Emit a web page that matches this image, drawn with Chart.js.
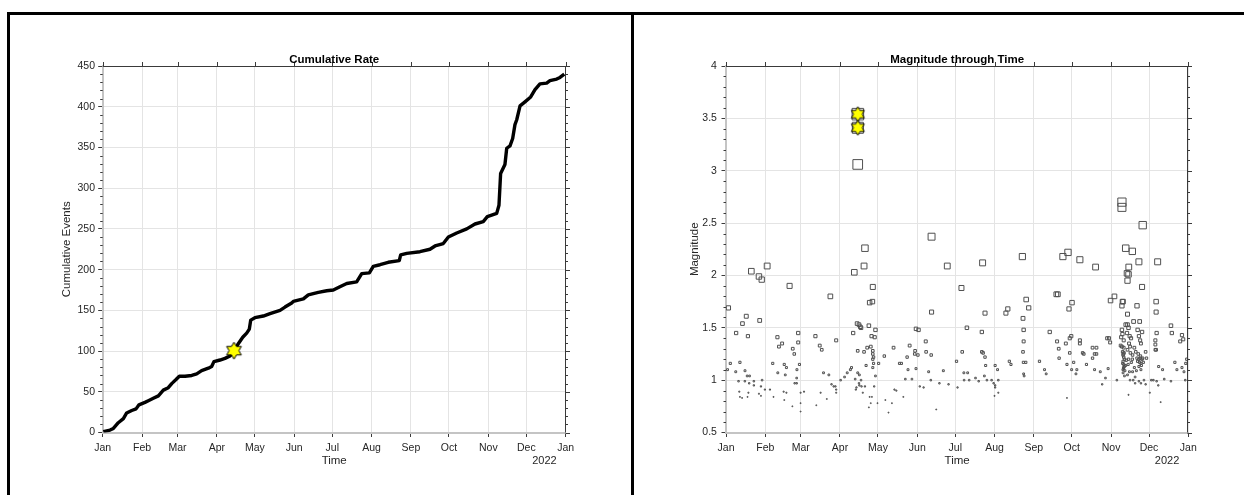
<!DOCTYPE html>
<html>
<head>
<meta charset="utf-8">
<script src="https://cdn.jsdelivr.net/npm/chart.js@4.4.1/dist/chart.umd.min.js"></script>
<style>
  html, body { margin: 0; padding: 0; background: #fff; }
  #fig { position: relative; width: 1244px; height: 495px; overflow: hidden; background: #fff; }
  .painel { position: absolute; top: 0; height: 495px; }
  .linha { position: absolute; background: #000; }
</style>
</head>
<body>
<div id="fig">
  <div class="painel" style="left:0;width:633px"><canvas id="cumChart" width="633" height="495"></canvas></div>
  <div class="painel" style="left:633px;width:611px"><canvas id="magChart" width="611" height="495"></canvas></div>
  <div class="linha" style="left:7px;top:12px;width:1237px;height:3px"></div>
  <div class="linha" style="left:7px;top:12px;width:3px;height:483px"></div>
  <div class="linha" style="left:631px;top:12px;width:3px;height:483px"></div>
</div>
<script>
// ========== DADOS ==========
// eixo de tempo: dias desde 1 de janeiro
const mesesDias = [0, 31, 59, 90, 120, 151, 181, 212, 243, 273, 304, 334, 365];
const mesesNomes = ['Jan', 'Feb', 'Mar', 'Apr', 'May', 'Jun', 'Jul', 'Aug', 'Sep', 'Oct', 'Nov', 'Dec', 'Jan'];
const anoRotulo = '2022';

// curva acumulada
const cumDias = [
  0.5, 5.8, 8.4, 12.3, 16.3, 18.9, 22.9, 26.3, 28.6, 33.3,
  36, 39.9, 43.9, 47.8, 51.7, 54.4, 57.8, 60.4, 64.9, 70.2,
  74.1, 78, 83.3, 85.9, 87.7, 92.5, 96.4, 100.4, 103.5, 106.9,
  110.4, 113.5, 115.6, 116.7, 120, 126.6, 131.9, 139.8, 143.7, 149,
  150.3, 158.2, 162.1, 170, 176.6, 181.8, 187, 192.4, 200.2, 204.2,
  210.2, 213.3, 218.6, 225.1, 233.8, 234.9, 239.7, 250.1, 258, 262,
  268.5, 272.5, 279.1, 287, 293.5, 300, 303.2, 310.6, 312.4, 313.7,
  317.1, 318.5, 321.1, 323.2, 325, 326.4, 329, 332.9, 337.4, 340.8,
  344.7, 350, 352.6, 357.9, 360.5, 363.9
];
const cumEventos = [
  1, 3, 5, 12, 17, 24, 27, 29, 34, 37,
  39, 42, 45, 52, 55, 60, 65, 69, 69, 70,
  72, 76, 79, 81, 87, 89, 91, 94, 100, 109,
  117, 122, 127, 138, 141, 143, 146, 150, 154, 159,
  161, 164, 169, 172, 174, 175, 179, 183, 185, 195,
  196, 204, 206, 209, 211, 218, 220, 222, 225, 229,
  232, 240, 245, 250, 256, 259, 265, 269, 279, 318,
  329, 349, 352, 361, 378, 384, 401, 406, 412, 421,
  428, 429, 432, 434, 436, 440
];

// eventos principais (estrelas)
const estrelaCumDias = [103.5];
const estrelaCumEventos = [100.5];
const estrelaMagDias = [104.1, 104.1];
const estrelaMagValores = [3.54, 3.41];

// magnitudes de cada evento
const magDias = [
  // jan
  1.9, 3.4, 1.2, 8, 7.7, 9.9, 11, 13, 10.5, 11,
  12.7, 15, 16, 17.3, 16.7, 18.6, 14.9, 18.3, 17.7, 17,
  20, 22, 22, 26, 26.6, 28.2, 27.6, 28.5, 26, 27.6,
  32.5, 30.7,
  // fev
  34.7, 36.9, 37.5, 40.6, 41.8, 44.3, 40.9, 46, 47.7, 46.8,
  45.5, 47.7, 46, 50.2, 52.7, 53.9, 52.4, 54.2, 55.8, 55.8,
  57, 57, 56, 58, 58.9, 58.9, 58.9, 61.6,
  // mar
  70.6, 71.3, 74, 75.6, 74.7, 77, 79.6, 81.2, 82.4, 83.3,
  85, 86.4, 87, 87, 87, 90.5,
  // abr
  93.6, 95.7, 98.2, 99.1, 100.4, 101.3, 102, 103, 102.5, 104,
  103.5, 104, 104, 105, 106, 106.6, 105.3, 105, 105.3, 106.6,
  107, 108, 109, 109.7, 109, 110.6, 111.5, 109.7, 112.8, 113.4,
  115.6, 115.9, 114.9, 114.3, 115.9, 115.9, 116.5, 115.9, 116.5, 115.9,
  112.8, 113.4, 115.2, 114.3, 117, 117.4, 118, 118, 119.6, 120.5,
  104.1, 104.1,
  // mai
  125, 125.8, 128.3, 131, 132.3, 133, 134.5, 137, 138.5, 140,
  141.6, 143, 143.7, 145, 146.8, 149, 149.3, 150, 150, 152,
  151.5, 153,
  // jun
  156, 157.7, 158, 160, 161.7, 162, 162.3, 162.3, 166, 168.5,
  171.6, 174.7, 175.7,
  // jul
  182, 182.8, 185.9, 186.5, 187.8, 188, 190.2, 190.8, 192, 197,
  199.5, 202, 202.6, 202, 203, 204.5, 205, 204.5, 204, 206,
  209.7, 211.3,
  // ago
  212.5, 212.5, 212.5, 212, 214.4, 215, 215, 221, 222.5, 223.7,
  225, 234, 234.5, 235, 235, 234.5, 234.8, 235, 235.4, 237,
  236.7, 239,
  // set
  247.5, 251.5, 252.8, 255.6, 260.8, 262, 261.4, 262.7, 263, 266,
  268.3, 270, 270.8, 269.2, 269.2, 271.4, 272.6, 271.4, 272.9,
  // out
  273.2, 274.5, 276.3, 277, 279.4, 279.4, 279.4, 281.6, 282.5, 284.6,
  289.4, 289.4, 291, 291.8, 292.5, 292.5, 291, 295.5, 297, 299.6,
  301, 302.4, 301.7, 303.6, 303.3,
  // nov
  306.7, 308.6, 312.6, 312.6, 313, 313.5, 312.6, 312.6, 313, 312,
  314, 311.6, 312.6, 314, 313.5, 314, 314.6, 313.5, 314, 314.6,
  314, 315, 313.5, 314.6, 315.6, 316.6, 317.8, 317, 318, 317,
  315.6, 317, 317.8, 316.6, 318.7, 319, 317, 319.3, 317.8, 317,
  319, 317.8, 320.8, 321.8, 322.4, 320.8, 322.4, 321.5, 323, 324.5,
  325, 326, 326.6, 326, 327, 327.6, 324.5, 325, 326, 327,
  327.6, 328.5, 329, 326, 327.6, 326, 327.6, 328.5, 328.5, 329,
  331.3, 332, 330, 331.3, 334.6,
  313.2, 313.8, 313.2, 313.8, 314.2, 313.4, 315.5, 316, 317.5, 318.5,
  320, 321, 323.5, 324, 325.5, 326.5, 327.2, 328, 329.5, 318.2,
  319.8, 321, 323,
  // dez
  335.8, 337.4, 339, 339.6, 339.6, 340, 339, 339, 339.6, 340,
  340.8, 341.6, 341.3, 343.2, 344.7, 346, 351.3, 352, 351.3, 354.4,
  356, 358.6, 360, 361, 360, 361.6, 362.6, 363.8, 363
];
const magValores = [
  // jan
  1.69, 1.16, 1.10, 1.45, 1.08, 0.99, 1.17, 1.54, 0.89, 0.84,
  0.83, 1.09, 1.61, 1.42, 1.04, 1.04, 0.99, 0.97, 0.88, 0.84,
  2.04, 0.99, 0.95, 1.99, 1.57, 1.96, 0.94, 1.00, 0.87, 0.85,
  2.09, 0.91,
  // fev
  0.91, 1.16, 0.84, 1.41, 1.32, 1.35, 1.07, 1.15, 1.12, 1.05,
  0.89, 0.88, 0.81, 1.90, 1.30, 1.25, 0.75, 0.97, 0.97, 1.02,
  1.45, 1.36, 1.10, 1.15, 0.88, 0.78, 0.70, 0.89,
  // mar
  1.42, 0.76, 1.33, 1.29, 0.88, 1.07, 0.82, 1.05, 1.80, 0.96,
  0.94, 0.94, 1.38, 0.91, 0.88, 1.00,
  // abr
  1.03, 1.07, 1.10, 1.12, 1.45, 2.03, 1.01, 0.93, 0.91, 3.06,
  1.54, 1.28, 1.07, 1.53, 1.51, 1.50, 1.05, 0.97, 0.95, 1.00,
  0.94, 0.88, 2.09, 2.26, 1.27, 1.14, 1.31, 0.94, 1.52, 1.74,
  1.75, 1.89, 1.42, 1.32, 1.28, 1.25, 1.22, 1.20, 1.16, 1.12,
  0.74, 0.84, 0.84, 0.78, 0.94, 1.41, 1.48, 1.04, 0.78, 1.16,
  3.54, 3.41,
  // mai
  1.23, 0.81, 0.69, 0.78, 1.31, 0.91, 0.90, 1.16, 1.16, 0.84,
  1.01, 1.22, 1.10, 1.33, 1.01, 1.25, 1.28, 1.49, 1.11, 1.48,
  1.24, 0.94,
  // jun
  0.93, 1.37, 1.27, 1.08, 1.00, 1.24, 2.37, 1.65, 0.72, 0.97,
  1.09, 2.09, 0.96,
  // jul
  1.18, 0.93, 1.88, 1.27, 1.07, 1.00, 1.50, 1.07, 1.00, 1.02,
  0.99, 1.46, 2.12, 1.27, 1.26, 1.22, 1.14, 1.64, 1.04, 1.00,
  1.00, 0.97,
  // ago
  1.14, 0.95, 0.93, 0.85, 1.10, 0.88, 1.00, 1.64, 1.68, 1.18,
  1.15, 2.18, 1.59, 1.48, 1.37, 1.27, 1.17, 1.06, 1.04, 1.77,
  1.17, 1.69,
  // set
  1.18, 1.10, 1.06, 1.46, 1.82, 1.82, 1.37, 1.30, 1.21, 2.18,
  1.35, 2.22, 1.68, 1.15, 0.83, 1.40, 1.42, 1.26, 1.10,
  // out
  1.74, 1.17, 1.06, 1.10, 1.38, 1.35, 2.15, 1.26, 1.25, 1.15,
  1.31, 1.21, 1.25, 2.08, 1.31, 1.25, 1.10, 1.08, 0.96, 1.02,
  1.40, 1.40, 1.11, 1.76, 1.36,
  // nov
  1.80, 1.00, 2.70, 2.65, 1.75, 1.75, 1.71, 1.48, 1.44, 1.41,
  1.38, 1.33, 1.32, 1.31, 1.24, 1.22, 1.20, 1.18, 1.15, 1.13,
  1.11, 1.09, 1.07, 1.04, 2.26, 2.02, 2.01, 1.95, 2.08, 1.63,
  1.53, 1.53, 1.50, 1.45, 1.42, 1.32, 1.29, 1.26, 1.20, 1.05,
  1.00, 0.86, 2.23, 1.56, 1.31, 1.20, 1.12, 1.00, 0.97, 1.71,
  1.48, 2.13, 1.56, 1.42, 1.38, 1.35, 1.21, 1.18, 1.20, 1.21,
  1.16, 1.20, 1.21, 1.13, 1.10, 0.99, 0.97, 1.46, 1.89, 2.48,
  1.27, 1.21, 1.00, 0.96, 0.88,
  1.27, 1.25, 1.16, 1.12, 1.26, 1.10, 1.14, 1.19, 1.15, 1.08,
  1.17, 1.24, 1.27, 1.09, 1.25, 1.17, 1.23, 1.14, 1.17, 1.35,
  1.40, 1.08, 1.03,
  // dez
  1.00, 1.00, 1.38, 1.75, 1.65, 1.45, 1.34, 1.29, 1.29, 0.99,
  2.13, 1.13, 0.95, 0.79, 1.10, 1.01, 1.52, 1.45, 0.99, 1.17,
  1.10, 1.37, 1.43, 1.39, 1.12, 1.08, 1.00, 1.20, 1.16
];

// ========== ESTILO ==========
const FONTE = '"Liberation Sans", Arial, Helvetica, sans-serif';
Chart.defaults.font.family = FONTE;
Chart.defaults.color = '#262626';

function criarEstrela(R) {
  const c = document.createElement('canvas');
  const s = Math.ceil(R * 2 + 4);
  c.width = s; c.height = s;
  const g = c.getContext('2d');
  const r = R / Math.sqrt(3);
  g.beginPath();
  for (let i = 0; i < 12; i++) {
    const ang = -Math.PI / 2 + i * Math.PI / 6;
    const rr = i % 2 === 0 ? R : r;
    const px = s / 2 + rr * Math.cos(ang);
    const py = s / 2 + rr * Math.sin(ang);
    if (i === 0) g.moveTo(px, py); else g.lineTo(px, py);
  }
  g.closePath();
  g.fillStyle = '#ffff00';
  g.fill();
  g.strokeStyle = '#000';
  g.lineWidth = 1;
  g.stroke();
  return c;
}

// caixa, ticks superiores/direitos, ticks menores, título e ano
const eixosMatlab = {
  id: 'eixosMatlab',
  afterDatasetsDraw(chart, args, o) {
    const { ctx, chartArea: a } = chart;
    const sx = chart.scales.x, sy = chart.scales.y;
    ctx.save();
    ctx.strokeStyle = '#3a3a3a';
    ctx.lineWidth = 1;
    const topo = Math.round(a.top) + 0.5;
    const dir = Math.round(a.right) - 0.5;
    ctx.beginPath();
    ctx.moveTo(a.left, topo); ctx.lineTo(a.right, topo);
    ctx.moveTo(dir, a.top); ctx.lineTo(dir, a.bottom);
    mesesDias.forEach(v => {
      const px = Math.round(sx.getPixelForValue(v)) + 0.5;
      ctx.moveTo(px, topo); ctx.lineTo(px, topo - 4.5);
    });
    const nMaior = Math.round((o.ymax - o.ymin) / o.ystep);
    for (let i = 0; i <= nMaior; i++) {
      const py = Math.round(sy.getPixelForValue(o.ymin + i * o.ystep)) + 0.5;
      ctx.moveTo(dir, py); ctx.lineTo(dir + 4.5, py);
    }
    const nMenor = Math.round((o.ymax - o.ymin) / o.yminor);
    const porMaior = Math.round(o.ystep / o.yminor);
    for (let i = 0; i <= nMenor; i++) {
      if (i % porMaior === 0) continue;
      const py = Math.round(sy.getPixelForValue(o.ymin + i * o.yminor)) + 0.5;
      ctx.moveTo(a.left, py); ctx.lineTo(a.left - 2.5, py);
      ctx.moveTo(dir, py); ctx.lineTo(dir + 2.5, py);
    }
    ctx.stroke();

    ctx.fillStyle = '#000';
    ctx.font = 'bold 11.5px ' + FONTE;
    ctx.textAlign = 'center';
    ctx.textBaseline = 'alphabetic';
    ctx.fillText(o.titulo, (a.left + a.right) / 2, 63.3);

    ctx.fillStyle = '#262626';
    ctx.font = '11px ' + FONTE;
    ctx.textAlign = 'right';
    ctx.textBaseline = 'middle';
    ctx.fillText(anoRotulo, a.right - 9, 461);
    ctx.restore();
  }
};

function montarGrafico(idCanvas, datasets, cfg) {
  const ctx = document.getElementById(idCanvas);
  return new Chart(ctx, {
    type: 'scatter',
    data: { datasets: datasets },
    plugins: [eixosMatlab],
    options: {
      responsive: false,
      animation: false,
      events: [],
      layout: { padding: { left: 0, top: 66, right: cfg.padDireita, bottom: 22.5 } },
      plugins: {
        legend: { display: false },
        tooltip: { enabled: false },
        eixosMatlab: {
          titulo: cfg.titulo,
          ymin: cfg.ymin, ymax: cfg.ymax, ystep: cfg.ystep, yminor: cfg.yminor
        }
      },
      scales: {
        x: {
          type: 'linear',
          min: 0,
          max: 365,
          afterBuildTicks: s => { s.ticks = mesesDias.map(v => ({ value: v })); },
          afterFit: s => { s.height = 40; },
          ticks: {
            autoSkip: false,
            maxRotation: 0,
            padding: 4.4,
            color: '#262626',
            font: { size: 10.5 },
            callback: (v, i) => mesesNomes[i]
          },
          grid: { color: '#e4e4e4', tickColor: '#3a3a3a', tickLength: 4.5 },
          border: { color: '#c4c4c4', width: 2 },
          title: {
            display: true, text: 'Time', color: '#262626',
            font: { size: 11.5 }, padding: { top: 0, bottom: 4.6 }
          }
        },
        y: {
          type: 'linear',
          min: cfg.ymin,
          max: cfg.ymax,
          afterFit: s => { s.width = cfg.larguraY; },
          ticks: {
            stepSize: cfg.ystep,
            padding: cfg.padTickY,
            color: '#262626',
            font: { size: 10.5 },
            callback: v => String(+v.toFixed(2))
          },
          grid: { color: '#e4e4e4', tickColor: '#3a3a3a', tickLength: 4.5 },
          border: { color: '#c4c4c4', width: 2 },
          title: {
            display: true, text: cfg.tituloY, color: '#262626',
            font: { size: 11.5 }, padding: { top: cfg.padTituloY, bottom: 0 }
          }
        }
      }
    }
  });
}

// ========== GRÁFICO ACUMULADO ==========
montarGrafico('cumChart', [
  {
    label: 'Evento principal',
    data: estrelaCumDias.map((d, i) => ({ x: d, y: estrelaCumEventos[i] })),
    pointStyle: criarEstrela(8.5),
    order: 0
  },
  {
    type: 'line',
    label: 'Cumulative Events',
    data: cumDias.map((d, i) => ({ x: d, y: cumEventos[i] })),
    showLine: true,
    borderColor: '#000',
    borderWidth: 3.4,
    borderJoinStyle: 'round',
    tension: 0,
    pointRadius: 0,
    fill: false,
    order: 1
  }
], {
  titulo: 'Cumulative Rate',
  tituloY: 'Cumulative Events',
  ymin: 0, ymax: 450, ystep: 50, yminor: 10,
  larguraY: 102.7, padDireita: 67.3, padTickY: 3.2, padTituloY: 60.1
});

// ========== GRÁFICO DE MAGNITUDE ==========
const raioMag = m => Math.max(0.6, 2.8 * (m - 0.62));

montarGrafico('magChart', [
  {
    label: 'Eventos principais',
    data: estrelaMagDias.map((d, i) => ({ x: d, y: estrelaMagValores[i] })),
    pointStyle: criarEstrela(7.5),
    order: 0
  },
  {
    label: 'Magnitude',
    data: magDias.map((d, i) => ({ x: d, y: magValores[i] })),
    pointStyle: 'rect',
    pointRadius: c => raioMag(c.raw.y),
    pointBackgroundColor: 'rgba(0,0,0,0)',
    pointBorderColor: '#505050',
    pointBorderWidth: 1,
    order: 1
  }
], {
  titulo: 'Magnitude through Time',
  tituloY: 'Magnitude',
  ymin: 0.5, ymax: 4, ystep: 0.5, yminor: 0.1,
  larguraY: 93, padDireita: 55.7, padTickY: 4.6, padTituloY: 55.1
});
</script>
</body>
</html>
